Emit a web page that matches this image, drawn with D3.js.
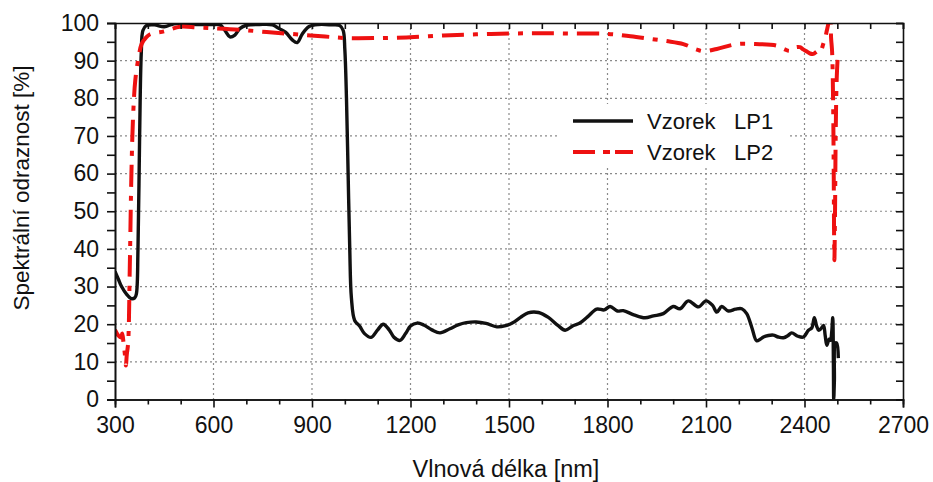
<!DOCTYPE html>
<html><head><meta charset="utf-8">
<script src="https://cdn.jsdelivr.net/npm/d3@7"></script>
<style>
html,body{margin:0;padding:0;background:#fff;}
svg{display:block;}
text{font-family:Arial,"Liberation Sans",sans-serif;fill:#111;}
</style></head>
<body><svg id="c" width="933" height="482"></svg>
<script>
// Data
const lp1Wave = [300,310,320,335,350,360,365,370,375,380,385,395,420,450,480,520,560,600,620,635,650,665,680,700,740,780,800,820,840,855,870,890,920,960,985,995,1000,1005,1010,1015,1020,1030,1045,1060,1080,1100,1117,1135,1150,1168,1185,1200,1220,1240,1265,1290,1320,1345,1370,1400,1430,1463,1490,1510,1535,1558,1590,1620,1650,1671,1695,1716,1740,1767,1790,1808,1830,1848,1880,1914,1940,1970,2000,2021,2046,2077,2100,2120,2133,2148,2168,2190,2209,2224,2240,2254,2265,2275,2290,2305,2320,2336,2350,2361,2380,2397,2412,2422,2430,2437,2443,2450,2458,2463,2468,2475,2479,2483,2486,2488,2489,2491,2494,2498,2503];
const lp1Refl = [34,32,30,28,26.8,27,28,40,70,92,98,99.3,99.5,99,99.8,99.7,99.6,99.6,99.5,98,96.3,96.8,98.5,99.4,99.6,99.5,98.5,97.5,95.5,94.8,97,99,99.6,99.5,99.3,98,93,80,60,40,27,21,19.5,17.5,16.5,18.5,20,18.5,16.5,15.7,17.5,19.5,20.3,19.8,18.5,17.7,18.8,19.8,20.4,20.6,20.2,19.3,19.6,20.3,21.8,23,23.1,21.8,19.6,18.4,19.6,20.3,22,24,23.8,24.7,23.5,23.6,22.5,21.7,22.2,22.8,24.7,24.1,26.2,24.6,26.2,25,23.2,24.7,23.5,24,24.1,22.8,19,15.6,16,16.6,17,17.1,16.6,16.4,17,17.7,16.8,16.6,18.4,19,21.7,19.5,18.4,18.8,19.7,17,14.4,16,15.7,18,21.7,10,0,5,15,15,11];

const lp2Wave = [300,310,318,322,326,330,333,336,340,345,350,355,362,372,381,395,407,450,498,550,600,680,762,850,940,1006,1100,1199,1300,1400,1503,1600,1700,1802,1870,1930,1980,2031,2070,2092,2133,2194,2250,2315,2340,2355,2370,2386,2396,2406,2417,2427,2440,2447,2452,2457,2463,2468,2473,2478,2481,2484,2487,2489,2490,2491,2493,2495,2498,2502];
const lp2Refl = [18.5,17,16.5,17.5,15,12,9,12,15,35,60,75,85,91,94.4,96.2,97,97.8,99,98.8,98.6,98.2,97.6,97,96.4,96,96,96.2,96.7,97,97.2,97.3,97.2,97.1,96.5,95.8,95.2,94.4,93,92.5,93.1,94.4,94.4,94,93,92.6,93.5,93.6,93,92.5,91.9,91.8,92.5,92.2,93,94.4,96,98,100,103,96,92.5,80,60,45,37,50,70,85,92.2];

const xMajorTicks = [300,600,900,1200,1500,1800,2100,2400,2700];
const yMajorTicks = [0,10,20,30,40,50,60,70,80,90,100];
const seriesNames = ["Vzorek", "Vzorek"];
const seriesTags = ["LP1", "LP2"];
const xTitle = "Vlnová délka [nm]";
const yTitle = "Spektrální odraznost [%]";

const svg = d3.select("#c");
const L = 115, R = 903, T = 23, B = 399.5;
const x = d3.scaleLinear().domain([300, 2700]).range([L, R]);
const y = d3.scaleLinear().domain([0, 100]).range([B, T]);

const xMinor = d3.range(300, 2701, 100).filter(v => !xMajorTicks.includes(v));
const yAll = d3.range(0, 101, 5);

// grid
const grid = svg.append("g").attr("stroke", "#8a8a8a").attr("stroke-width", 1.2).attr("stroke-dasharray", "2,3");
xMajorTicks.slice(1, -1).forEach(v => grid.append("line").attr("x1", x(v)).attr("x2", x(v)).attr("y1", T).attr("y2", B));
yMajorTicks.slice(1, -1).forEach(v => grid.append("line").attr("x1", L).attr("x2", R).attr("y1", y(v)).attr("y2", y(v)));

// clip
svg.append("clipPath").attr("id", "clip").append("rect").attr("x", L).attr("y", T).attr("width", R - L).attr("height", B - T);

const line = d3.line().x(d => x(d[0])).y(d => y(d[1])).curve(d3.curveCatmullRom.alpha(0.5));
const lp1 = lp1Wave.map((w, i) => [w, lp1Refl[i]]);
const lp2 = lp2Wave.map((w, i) => [w, lp2Refl[i]]);

const plot = svg.append("g").attr("clip-path", "url(#clip)");
plot.append("path").datum(lp1).attr("d", line).attr("fill", "none").attr("stroke", "#111").attr("stroke-width", 3.4).attr("stroke-linejoin", "round");
plot.append("path").datum(lp2).attr("d", line).attr("fill", "none").attr("stroke", "#ee1111").attr("stroke-width", 4).attr("stroke-dasharray", "22,9,5,9");

// axes
const axStyle = g => { g.select(".domain").attr("stroke", "#111").attr("stroke-width", 1.6); g.selectAll(".tick line").attr("stroke", "#111").attr("stroke-width", 1.6); };
svg.append("g").attr("transform", `translate(0,${B})`).call(d3.axisBottom(x).tickValues(xMinor).tickSize(5).tickFormat("")).call(axStyle);
svg.append("g").attr("transform", `translate(0,${B})`).call(d3.axisBottom(x).tickValues(xMajorTicks).tickSize(8).tickPadding(9).tickFormat(d3.format("d"))).call(axStyle)
  .call(g => g.selectAll("text").attr("font-size", 23).attr("font-family", "Arial, 'Liberation Sans', sans-serif").attr("fill", "#111"));
svg.append("g").attr("transform", `translate(0,${T})`).call(d3.axisBottom(x).tickValues(d3.range(300, 2701, 100)).tickSize(6).tickFormat("")).call(axStyle);
svg.append("g").attr("transform", `translate(${L},0)`).call(d3.axisLeft(y).tickValues(yAll.filter(v => v % 10)).tickSize(8).tickFormat("")).call(axStyle);
svg.append("g").attr("transform", `translate(${L},0)`).call(d3.axisLeft(y).tickValues(yMajorTicks).tickSize(8).tickPadding(8).tickFormat(d3.format("d"))).call(axStyle)
  .call(g => g.selectAll("text").attr("font-size", 23).attr("font-family", "Arial, 'Liberation Sans', sans-serif").attr("fill", "#111"));
svg.append("g").attr("transform", `translate(${R},0)`).call(d3.axisLeft(y).tickValues(yAll).tickSize(7).tickFormat("")).call(axStyle);

// titles
svg.append("text").attr("x", 506).attr("y", 477).attr("text-anchor", "middle").attr("font-size", 23.5).text(xTitle);
svg.append("text").attr("transform", "translate(29,188) rotate(-90)").attr("text-anchor", "middle").attr("font-size", 22.5).text(yTitle);

// legend
const lg = svg.append("g");
lg.append("rect").attr("x", 557).attr("y", 104).attr("width", 233).attr("height", 64).attr("fill", "#fff");
const legendColors = ["#111", "#ee1111"];
const legendDash = [null, "22,8,7,5,30"];
const legendW = [3.4, 4];
[0, 1].forEach(i => {
  const ly = 121 + i * 31;
  lg.append("line").attr("x1", 573).attr("x2", 633).attr("y1", ly).attr("y2", ly)
    .attr("stroke", legendColors[i]).attr("stroke-width", legendW[i]).attr("stroke-dasharray", legendDash[i]);
  lg.append("text").attr("x", 647).attr("y", ly + 8).attr("font-size", 22).text(seriesNames[i]);
  lg.append("text").attr("x", 734).attr("y", ly + 8).attr("font-size", 22).text(seriesTags[i]);
});
</script></body></html>
